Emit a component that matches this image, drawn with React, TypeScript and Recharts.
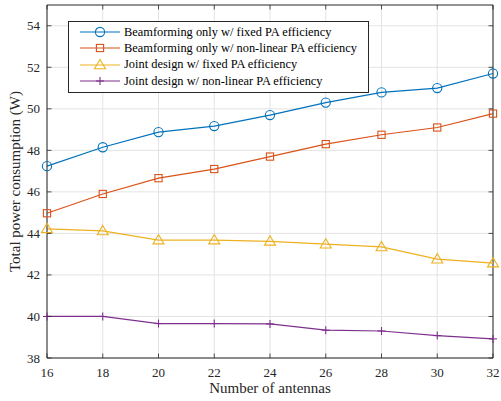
import { LineChart, Line, XAxis, YAxis, CartesianGrid, ReferenceLine } from "recharts"

const antennas = [16, 18, 20, 22, 24, 26, 28, 30, 32]
const bfFixed = [47.24, 48.15, 48.88, 49.17, 49.7, 50.3, 50.79, 51.0, 51.7]
const bfNonLinear = [44.97, 45.9, 46.66, 47.1, 47.7, 48.3, 48.75, 49.1, 49.77]
const jointFixed = [44.22, 44.12, 43.68, 43.68, 43.62, 43.48, 43.35, 42.76, 42.57]
const jointNonLinear = [40.0, 40.0, 39.66, 39.66, 39.64, 39.34, 39.3, 39.08, 38.92]
const xTicks = [16, 18, 20, 22, 24, 26, 28, 30, 32]
const yTicks = [38, 40, 42, 44, 46, 48, 50, 52, 54]

const seriesInfo = [
    { key: "bfFixed", name: "Beamforming only w/ fixed PA efficiency", color: "#0072BD", shape: "circle" },
    { key: "bfNonLinear", name: "Beamforming only w/ non-linear PA efficiency", color: "#D95319", shape: "square" },
    { key: "jointFixed", name: "Joint design w/ fixed PA efficiency", color: "#EDB120", shape: "triangle" },
    { key: "jointNonLinear", name: "Joint design w/ non-linear PA efficiency", color: "#7E2F8E", shape: "plus" },
]

const data = antennas.map((n, i) => ({
    n,
    bfFixed: bfFixed[i],
    bfNonLinear: bfNonLinear[i],
    jointFixed: jointFixed[i],
    jointNonLinear: jointNonLinear[i],
}))

const W = 501
const H = 401
const M = { top: 5, right: 8, bottom: 0, left: 0 }
const Y_AXIS_W = 47
const X_AXIS_H = 43
const PLOT_W = W - M.left - M.right - Y_AXIS_W
const PLOT_H = H - M.top - M.bottom - X_AXIS_H
const FONT = "'Liberation Serif', 'Times New Roman', serif"
const TEXT = "#262626"

const Marker = ({ cx, cy, shape, color }: { cx: number; cy: number; shape: string; color: string }) => {
    const sw = 1.1
    if (shape === "circle") return <circle cx={cx} cy={cy} r={4.6} fill="none" stroke={color} strokeWidth={sw} />
    if (shape === "square") return <rect x={cx - 3.6} y={cy - 3.6} width={7.2} height={7.2} fill="none" stroke={color} strokeWidth={sw} />
    if (shape === "triangle")
        return <polygon points={`${cx},${cy - 5.5} ${cx + 5.5},${cy + 3.8} ${cx - 5.5},${cy + 3.8}`} fill="none" stroke={color} strokeWidth={sw} />
    return (
        <g stroke={color} strokeWidth={sw}>
            <line x1={cx - 4} y1={cy} x2={cx + 4} y2={cy} />
            <line x1={cx} y1={cy - 4} x2={cx} y2={cy + 4} />
        </g>
    )
}

// ticks point inwards on all four sides, like the original figure
const XTick = (props: any) => {
    const { x, y, payload } = props
    return (
        <g>
            <line x1={x} y1={y} x2={x} y2={y - 4.5} stroke={TEXT} strokeWidth={0.8} />
            <line x1={x} y1={y - PLOT_H} x2={x} y2={y - PLOT_H + 4.5} stroke={TEXT} strokeWidth={0.8} />
            <text x={x} y={y + 19} textAnchor="middle" fontSize={13} fontFamily={FONT} fill={TEXT}>
                {payload.value}
            </text>
        </g>
    )
}

const YTick = (props: any) => {
    const { x, y, payload } = props
    return (
        <g>
            <line x1={x} y1={y} x2={x + 4.5} y2={y} stroke={TEXT} strokeWidth={0.8} />
            <line x1={x + PLOT_W} y1={y} x2={x + PLOT_W - 4.5} y2={y} stroke={TEXT} strokeWidth={0.8} />
            <text x={x - 7} y={y + 4.5} textAnchor="end" fontSize={13} fontFamily={FONT} fill={TEXT}>
                {payload.value}
            </text>
        </g>
    )
}

const LegendBox = () => (
    <div
        style={{
            position: "absolute",
            left: 68,
            top: 21,
            width: 299,
            height: 68,
            border: "1px solid #262626",
            background: "#fff",
            fontFamily: FONT,
            fontSize: 12.4,
            color: "#000",
            boxSizing: "content-box",
            paddingTop: 2,
        }}
    >
        {seriesInfo.map((s) => (
            <div key={s.key} style={{ display: "flex", alignItems: "center", height: 16.3 }}>
                <svg width={55} height={14} style={{ flex: "none" }}>
                    <line x1={11} y1={7} x2={51} y2={7} stroke={s.color} strokeWidth={1.2} />
                    <Marker cx={31} cy={7} shape={s.shape} color={s.color} />
                </svg>
                <span style={{ whiteSpace: "nowrap" }}>{s.name}</span>
            </div>
        ))}
    </div>
)

export default function App() {
    return (
        <div style={{ position: "absolute", left: 0, top: 0, width: W, height: H, background: "#fff" }}>
            <LineChart width={W} height={H} data={data} margin={M}>
                <CartesianGrid stroke="#e3e3e3" strokeWidth={1} horizontalValues={yTicks} verticalValues={xTicks} />
                <XAxis
                    dataKey="n"
                    type="number"
                    domain={[16, 32]}
                    ticks={xTicks}
                    height={X_AXIS_H}
                    tick={<XTick />}
                    tickLine={false}
                    tickSize={0}
                    tickMargin={0}
                    axisLine={{ stroke: TEXT, strokeWidth: 1 }}
                    interval={0}
                    label={{ value: "Number of antennas", position: "insideBottom", offset: 8, fontSize: 15, fontFamily: FONT, fill: TEXT }}
                />
                <YAxis
                    type="number"
                    domain={[38, 55]}
                    ticks={yTicks}
                    width={Y_AXIS_W}
                    tick={<YTick />}
                    tickLine={false}
                    tickSize={0}
                    tickMargin={0}
                    axisLine={{ stroke: TEXT, strokeWidth: 1 }}
                    interval={0}
                    allowDataOverflow
                    label={{
                        value: "Total power consumption (W)",
                        angle: -90,
                        position: "center",
                        dx: -8.5,
                        fontSize: 15,
                        fontFamily: FONT,
                        fill: TEXT,
                    }}
                />
                <ReferenceLine y={55} stroke={TEXT} strokeWidth={1} />
                <ReferenceLine x={32} stroke={TEXT} strokeWidth={1} />
                {seriesInfo.map((s) => (
                    <Line
                        key={s.key}
                        dataKey={s.key}
                        name={s.name}
                        stroke={s.color}
                        strokeWidth={1.2}
                        isAnimationActive={false}
                        dot={(p: any) => <Marker key={`${s.key}-${p.index}`} cx={p.cx} cy={p.cy} shape={s.shape} color={s.color} />}
                        activeDot={false}
                    />
                ))}
            </LineChart>
            <LegendBox />
        </div>
    )
}
